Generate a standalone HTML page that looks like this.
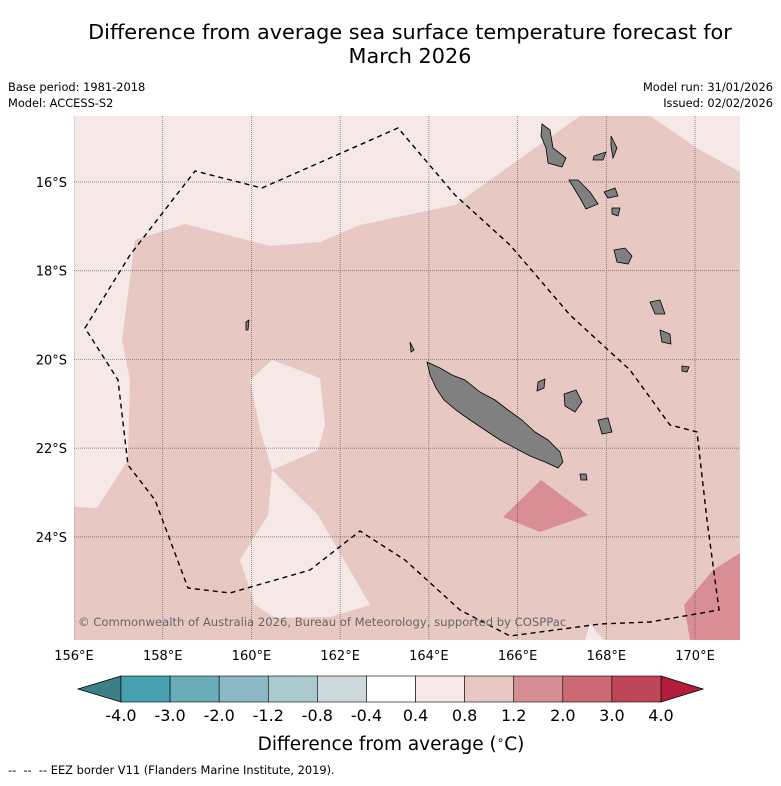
<!DOCTYPE html>
<html><head><meta charset="utf-8">
<style>
body{margin:0;background:#fff;width:781px;height:781px;overflow:hidden;font-family:"Liberation Sans","DejaVu Sans",sans-serif;}
svg text{font-family:"DejaVu Sans","Liberation Sans",sans-serif;}
</style></head>
<body>
<svg id="fig" width="781" height="781" viewBox="0 0 781 781">
<text x="410" y="39" font-size="20.8" text-anchor="middle" fill="#000">Difference from average sea surface temperature forecast for</text>
<text x="410" y="63" font-size="20.8" text-anchor="middle" fill="#000">March 2026</text>
<text x="8" y="91" font-size="11.4">Base period: 1981-2018</text>
<text x="8" y="107" font-size="11.4">Model: ACCESS-S2</text>
<text x="773" y="91" font-size="11.4" text-anchor="end">Model run: 31/01/2026</text>
<text x="773" y="107" font-size="11.4" text-anchor="end">Issued: 02/02/2026</text>

<defs><clipPath id="mc"><rect x="74" y="116" width="666" height="524"/></clipPath></defs>
<g clip-path="url(#mc)">
<rect x="74" y="116" width="666" height="524" fill="#f5e8e6"/>
<path fill="#e8c8c3" d="M580,116 L650,116 L700,150 L740,172 L740,640 L74,640 L74,507 L97,508 L128,460 L130,380 L122,340 L135,240 L185,224 L270,246 L320,242 L360,225 L455,205 Z"/>
<path fill="#f5e8e6" d="M250,380 L272,360 L320,378 L325,425 L318,450 L272,470 L260,430 Z"/>
<path fill="#f5e8e6" d="M272,470 L318,515 L370,605 L330,617 L275,618 L255,605 L240,560 L268,515 Z"/>
<path fill="#f5e8e6" d="M590,624 L604,640 L585,640 Z"/>
<path fill="#d88e94" d="M503,517 L541,480 L588,515 L540,532 Z"/>
<path fill="#d88e94" d="M684,605 L713,570 L740,553 L740,640 L690,640 Z"/>
<g id="grid" stroke="#444" stroke-width="0.7" stroke-dasharray="1,1" opacity="0.8"></g>
<path fill="none" stroke="#000" stroke-width="1.4" stroke-dasharray="5,4" d="M85,328 L130,255 L195,171 L262,188 L398,128 L455,195 L510,245 L570,315 L630,370 L670,425 L697,432 L707,520 L719,610 L650,622 L600,624 L510,636 L460,610 L405,560 L360,531 L310,570 L230,593 L188,588 L155,500 L128,465 L118,380 Z"/>
<g fill="#808080" stroke="#000" stroke-width="0.8">
<path d="M427,362 L440,368 L452,375 L465,380 L480,392 L495,400 L508,410 L522,420 L535,432 L548,440 L560,452 L563,462 L558,468 L545,462 L530,456 L515,448 L500,440 L485,430 L470,420 L456,410 L444,400 L436,388 L430,375 Z"/>
<path d="M410,342 L414,350 L411,352 Z"/>
<path d="M538,382 L545,379 L544,388 L537,391 Z"/>
<path d="M564,394 L576,390 L582,402 L575,412 L565,406 Z"/>
<path d="M598,420 L608,418 L612,432 L602,434 Z"/>
<path d="M580,474 L586,474 L587,480 L581,480 Z"/>
<path d="M542,124 L550,130 L553,148 L566,158 L562,167 L548,163 L546,148 L541,136 Z"/>
<path d="M594,156 L606,152 L603,160 L593,160 Z"/>
<path d="M569,180 L578,180 L590,192 L598,204 L586,209 L580,198 Z"/>
<path d="M604,192 L615,188 L618,196 L608,198 Z"/>
<path d="M611,136 L617,148 L613,158 L611,146 Z"/>
<path d="M614,250 L625,248 L632,256 L628,264 L617,262 Z"/>
<path d="M650,302 L660,300 L665,314 L655,314 Z"/>
<path d="M660,330 L670,334 L671,344 L662,342 Z"/>
<path d="M682,366 L689,367 L687,372 L682,371 Z"/>
<path d="M246,322 L249,320 L248,330 L246,330 Z"/>
<path d="M612,208 L620,208 L618,216 L612,214 Z"/>
</g>
</g>
<text x="78" y="626" font-size="11.6" fill="#666">© Commonwealth of Australia 2026, Bureau of Meteorology, supported by COSPPac</text>
<g id="ticks" font-size="13"></g>
<g id="cbar"></g>
<text x="391" y="750" font-size="18.5" text-anchor="middle">Difference from average (<tspan font-size="12" dy="-6">∘</tspan><tspan dy="6">C)</tspan></text>
<text x="8" y="774" font-size="11.4" xml:space="preserve">--  --  -- EEZ border V11 (Flanders Marine Institute, 2019).</text>
</svg>
<script>
const lonTicks=[156,158,160,162,164,166,168,170];
const latTicks=[16,18,20,22,24];
const cbarLabels=["-4.0","-3.0","-2.0","-1.2","-0.8","-0.4","0.4","0.8","1.2","2.0","3.0","4.0"];
const cbarColors=["#47a1b0","#6aadb9","#8cb9c4","#aacacd","#cdd9dc","#ffffff","#f5e8e6","#e8c7c3","#d68d94","#cb6a73","#bf4656"];
const extLow="#3b7f88", extHigh="#b11d3a";
const NS="http://www.w3.org/2000/svg";
const X=lon=>74+(lon-156)*44.36, Y=lat=>182+(lat-16)*44.36;
const grid=document.getElementById('grid'), ticks=document.getElementById('ticks');
function mk(t,a,p){const e=document.createElementNS(NS,t);for(const k in a)e.setAttribute(k,a[k]);p.appendChild(e);return e;}
lonTicks.forEach(l=>{
 const g=mk('line',{x1:X(l),x2:X(l),y1:116,y2:640},grid);
 
 
 const t=mk('text',{x:X(l),y:660,'text-anchor':'middle'},ticks);t.textContent=l+'°E';
 
 
});
latTicks.forEach(l=>{
 const g=mk('line',{x1:74,x2:740,y1:Y(l),y2:Y(l)},grid);
 
 
 const t=mk('text',{x:67,y:Y(l)+5,'text-anchor':'end'},ticks);t.textContent=l+'°S';
 
 
});
const cb=document.getElementById('cbar');
const x0=121,x1=661,y0=676,y1=702,n=cbarColors.length,w=(x1-x0)/n;
const lo=mk('polygon',{points:`${x0},${y0} ${x0},${y1} 78,${(y0+y1)/2}`,fill:extLow,stroke:'#000','stroke-width':0.8},cb);


const hi=mk('polygon',{points:`${x1},${y0} ${x1},${y1} 703,${(y0+y1)/2}`,fill:extHigh,stroke:'#000','stroke-width':0.8},cb);


cbarColors.forEach((c,i)=>{
 const r=mk('rect',{x:x0+i*w,y:y0,width:w,height:y1-y0,fill:c,stroke:'#000','stroke-width':0.6},cb);
 
 
});
cbarLabels.forEach((s,i)=>{
 const t=mk('text',{x:x0+i*w,y:721,'text-anchor':'middle','font-size':16},cb);t.textContent=s;
 
 
});
</script>
</body></html>
